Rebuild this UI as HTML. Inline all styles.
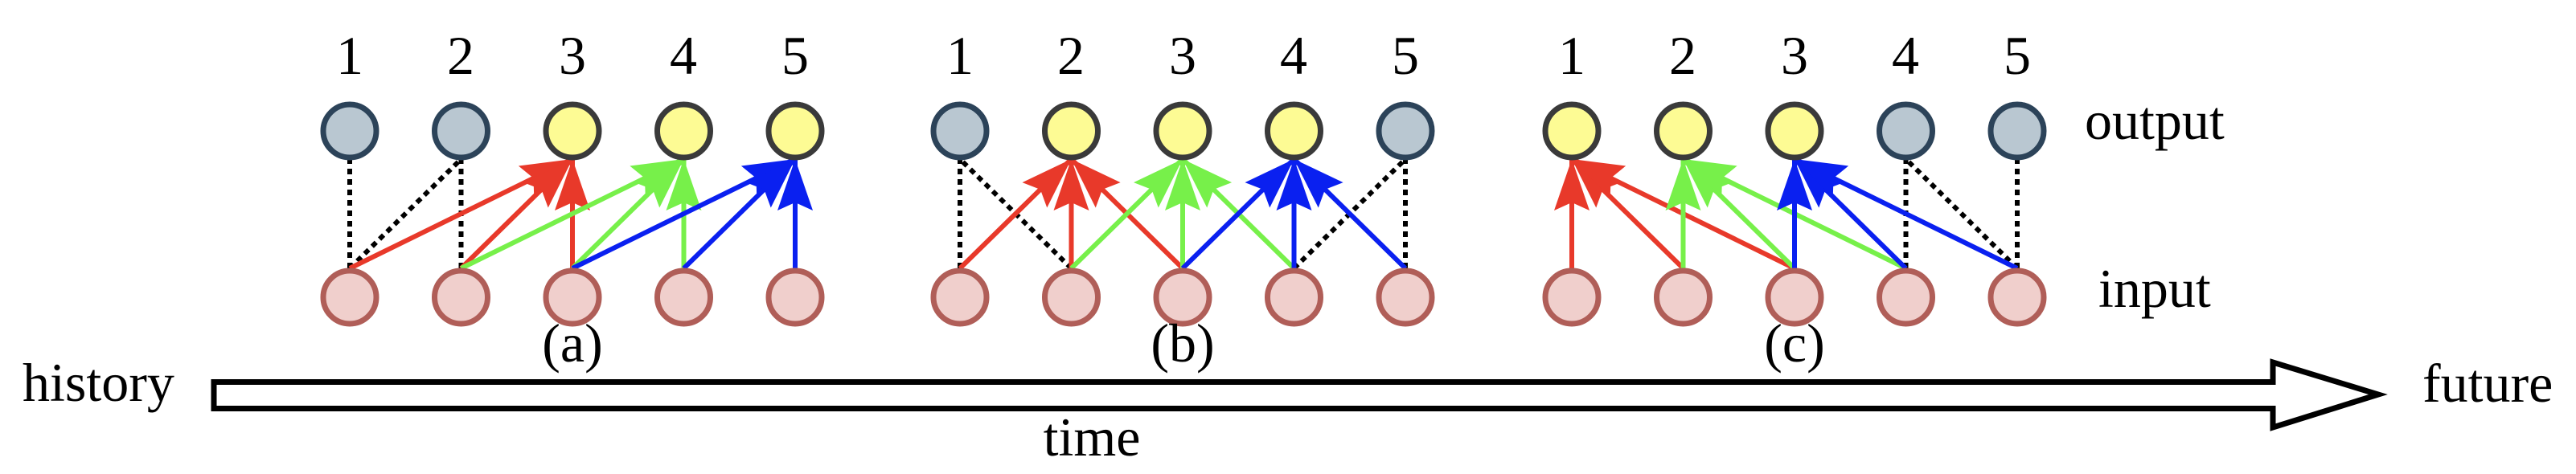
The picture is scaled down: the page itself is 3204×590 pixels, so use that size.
<!DOCTYPE html>
<html><head><meta charset="utf-8"><style>
html,body{margin:0;padding:0;background:#fff;}
svg{display:block;}
text{font-family:"Liberation Serif",serif;fill:#000;}
</style></head><body>
<svg id="s" width="3204" height="590" viewBox="0 0 3204 590" xmlns="http://www.w3.org/2000/svg">
<defs>
<marker id="mr" markerUnits="userSpaceOnUse" markerWidth="70" markerHeight="50" refX="64" refY="22" orient="auto"><path d="M0,0 L64,22 L0,44 L10,22 Z" fill="#e8392a"/></marker>
<marker id="mg" markerUnits="userSpaceOnUse" markerWidth="70" markerHeight="50" refX="64" refY="22" orient="auto"><path d="M0,0 L64,22 L0,44 L10,22 Z" fill="#77f04a"/></marker>
<marker id="mb" markerUnits="userSpaceOnUse" markerWidth="70" markerHeight="50" refX="64" refY="22" orient="auto"><path d="M0,0 L64,22 L0,44 L10,22 Z" fill="#0a20f0"/></marker>
</defs>
<g id="lines"></g>
<g id="nodes"></g>
<g font-size="68" text-anchor="middle">
<text x="435" y="92">1</text><text x="573" y="92">2</text><text x="712" y="92">3</text><text x="850" y="92">4</text><text x="989" y="92">5</text>
<text x="1194" y="92">1</text><text x="1332" y="92">2</text><text x="1471" y="92">3</text><text x="1609" y="92">4</text><text x="1748" y="92">5</text>
<text x="1955" y="92">1</text><text x="2093" y="92">2</text><text x="2232" y="92">3</text><text x="2370" y="92">4</text><text x="2509" y="92">5</text>
<text x="712" y="450">(a)</text><text x="1471" y="450">(b)</text><text x="2232" y="450">(c)</text>
<text x="1358" y="567">time</text>
</g>
<g font-size="68">
<text x="2593" y="173">output</text>
<text x="2610" y="382">input</text>
<text x="28" y="499">history</text>
<text x="3013" y="500">future</text>
</g>
<path d="M266,475.5 L2827,475.5 L2827,451 L2958,491 L2827,532 L2827,508.5 L266,508.5 Z" fill="#fff" stroke="#000" stroke-width="7" stroke-linejoin="miter"/>
</svg>
<script>
(function(){
var NS="http://www.w3.org/2000/svg";
var lines=document.getElementById("lines"),nodes=document.getElementById("nodes");
var S=138.5, yT=163, yB=370, yTo=198, yBi=334;
var col={r:"#e8392a",g:"#77f04a",b:"#0a20f0"};
function x(p,i){return [435,1194,1955][p]+S*(i-1);}
function ln(x1,y1,x2,y2,attrs){var l=document.createElementNS(NS,"line");l.setAttribute("x1",x1);l.setAttribute("y1",y1);l.setAttribute("x2",x2);l.setAttribute("y2",y2);for(var k in attrs)l.setAttribute(k,attrs[k]);lines.appendChild(l);}
function arrow(p,o,i,c){ln(x(p,i),yBi,x(p,o),yTo,{stroke:col[c],"stroke-width":6,"marker-end":"url(#m"+c+")"});}
function dot(p,o,i){ln(x(p,i),yBi,x(p,o),yTo,{stroke:"#000","stroke-width":6,"stroke-dasharray":"7 6"});}
// panel a
dot(0,1,1);dot(0,2,2);dot(0,2,1);
[1,2,3].forEach(function(i){arrow(0,3,i,"r");});
[2,3,4].forEach(function(i){arrow(0,4,i,"g");});
[3,4,5].forEach(function(i){arrow(0,5,i,"b");});
// panel b
dot(1,1,1);dot(1,1,2);dot(1,5,4);dot(1,5,5);
[1,2,3].forEach(function(i){arrow(1,2,i,"r");});
[2,3,4].forEach(function(i){arrow(1,3,i,"g");});
[3,4,5].forEach(function(i){arrow(1,4,i,"b");});
// panel c
dot(2,4,4);dot(2,4,5);dot(2,5,5);
[1,2,3].forEach(function(i){arrow(2,1,i,"r");});
[2,3,4].forEach(function(i){arrow(2,2,i,"g");});
[3,4,5].forEach(function(i){arrow(2,3,i,"b");});
var grey={f:"#b9c7d1",s:"#2c4359"},yel={f:"#fdfb94",s:"#3a3a3a"},pink={f:"#f0cfcc",s:"#b05e58"};
var tops=[[grey,grey,yel,yel,yel],[grey,yel,yel,yel,grey],[yel,yel,yel,grey,grey]];
function circ(cx,cy,t){var e=document.createElementNS(NS,"ellipse");e.setAttribute("cx",cx);e.setAttribute("cy",cy);e.setAttribute("rx",33);e.setAttribute("ry",33);e.setAttribute("fill",t.f);e.setAttribute("stroke",t.s);e.setAttribute("stroke-width",7);nodes.appendChild(e);}
for(var p=0;p<3;p++)for(var i=1;i<=5;i++){circ(x(p,i),yT,tops[p][i-1]);circ(x(p,i),yB,pink);}
})();
</script>
</body></html>
